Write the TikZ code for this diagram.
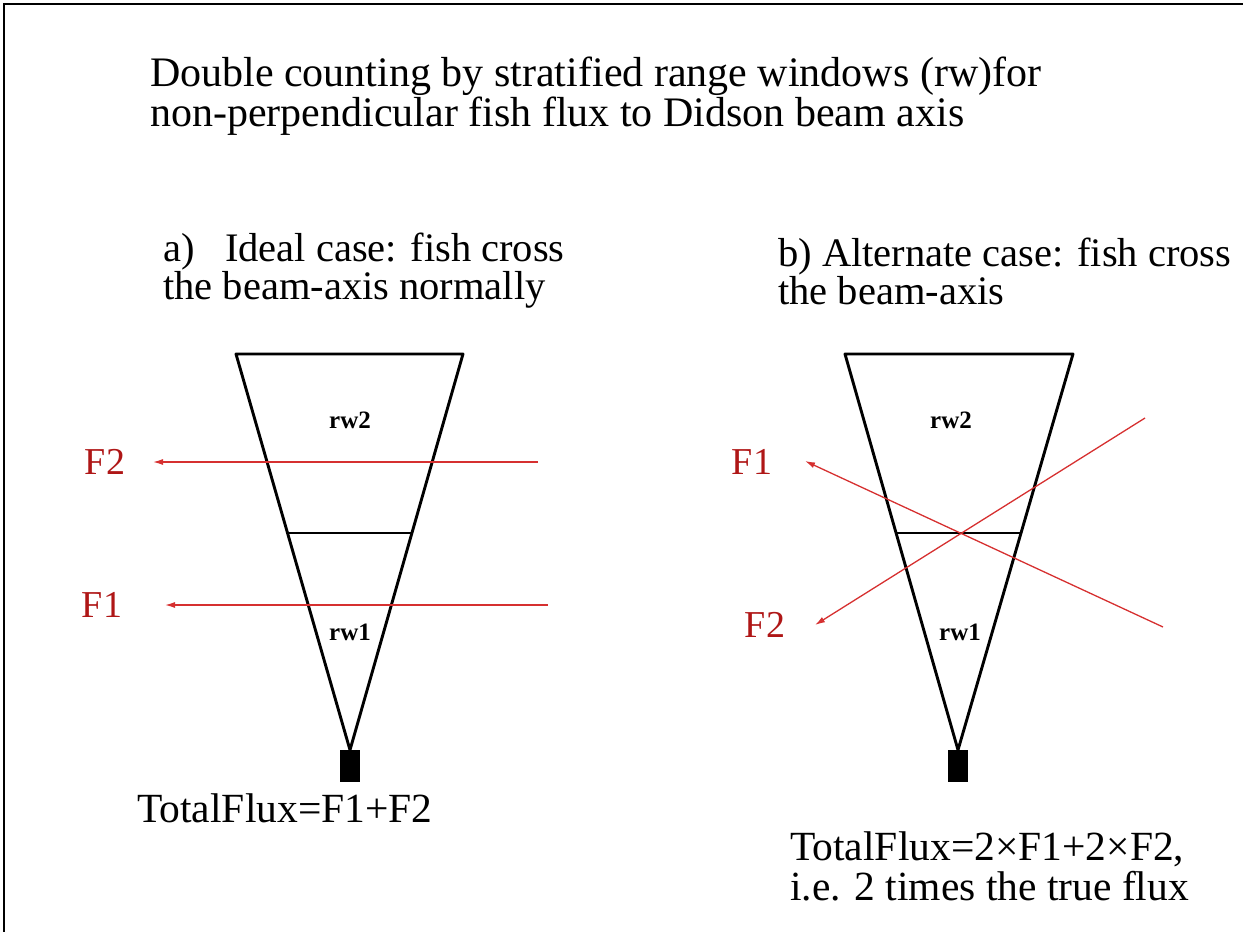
\documentclass[tikz,border=0pt]{standalone}
\usepackage{fontspec}
\setmainfont{Liberation Serif}
\usepackage{xcolor}
\usetikzlibrary{arrows.meta,calc}

\definecolor{fluxred}{RGB}{214,48,48}
\definecolor{labred}{RGB}{175,22,22}

\begin{document}
\begin{tikzpicture}[x=1pt,y=-1pt,
  txt/.style={anchor=west,inner sep=0pt,align=left,font=\rmfamily\fontsize{40.5}{38}\selectfont},
  flab/.style={inner sep=0pt,text=labred,font=\rmfamily\fontsize{38}{38}\selectfont},
  rw/.style={inner sep=0pt,font=\rmfamily\fontsize{25}{25}\selectfont\bfseries},
  beam/.style={draw,line width=2.9pt,line join=round},
  win/.style={draw,line width=1.3pt},
  flux/.style={draw=fluxred,line width=1.3pt,-{Latex[length=10pt,width=6pt]}},
  sonar/.style={fill=black,minimum width=20pt,minimum height=32pt,inner sep=0pt}
]
\useasboundingbox (0,0) rectangle (1243,932);
\draw[line width=2.5pt] (4,932) -- (4,4) -- (1243,4);

% headings
\node[txt,font=\rmfamily\fontsize{42}{38}\selectfont] (title) at (150,96) {Double counting by stratified range windows (rw)for\\non-perpendicular fish flux to Didson beam axis};
\node[txt] (capa) at (163,271) {a)\ \ \ Ideal case: fish cross\\the beam-axis normally};
\node[txt] (capb) at (778,271) {b) Alternate case: fish cross\\the beam-axis};

% a) ideal case
\coordinate (aTL) at (236,354);
\coordinate (aTR) at (463,354);
\coordinate (aApex) at (350,750);
\draw[beam] (aTL) -- (aApex) -- (aTR) -- cycle;
\draw[win] ($(aTL)!0.452!(aApex)$) -- ($(aTR)!0.452!(aApex)$);
\node[sonar,anchor=north] (aSonar) at (aApex) {};
\node[rw] (aRw2) at (350,420) {rw2};
\node[rw] (aRw1) at (350,632) {rw1};

\coordinate (aF2s) at (538,462);
\coordinate (aF2e) at (153,462);
\coordinate (aF1s) at (548,605);
\coordinate (aF1e) at (165,605);
\draw[flux] (aF2s) -- (aF2e);
\draw[flux] (aF1s) -- (aF1e);
\node[flab] (aF2) at (105,462) {F2};
\node[flab] (aF1) at (102,605) {F1};

\node[txt,font=\rmfamily\fontsize{41.5}{38}\selectfont] (aTotal) at (137,808) {TotalFlux=F1+F2};

% b) alternate case
\coordinate (bTL) at (845,354);
\coordinate (bTR) at (1073,354);
\coordinate (bApex) at (958,750);
\draw[beam] (bTL) -- (bApex) -- (bTR) -- cycle;
\draw[win] ($(bTL)!0.452!(bApex)$) -- ($(bTR)!0.452!(bApex)$);
\node[sonar,anchor=north] (bSonar) at (bApex) {};
\node[rw] (bRw2) at (951,420) {rw2};
\node[rw] (bRw1) at (960,632) {rw1};

\coordinate (bF1s) at (1163,627);
\coordinate (bF1e) at (805,461);
\coordinate (bF2s) at (1145,418);
\coordinate (bF2e) at (815,625);
\draw[flux] (bF1s) -- (bF1e);
\draw[flux] (bF2s) -- (bF2e);
\node[flab] (bF1) at (752,462) {F1};
\node[flab] (bF2) at (765,625) {F2};

\node[txt,font=\rmfamily\fontsize{41.5}{40}\selectfont] (bTotal) at (790,866) {TotalFlux=2×F1+2×F2,\\i.e. 2 times the true flux};
\end{tikzpicture}
\end{document}
